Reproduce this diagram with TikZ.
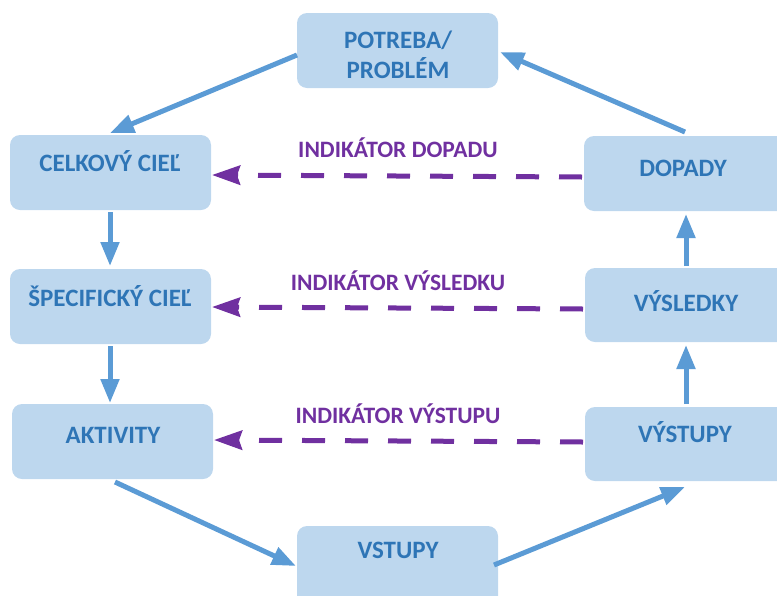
\documentclass[tikz,border=0pt]{standalone}
\usepackage{fontspec}
\setmainfont{Carlito}
\usetikzlibrary{arrows.meta}
\definecolor{boxfill}{HTML}{BDD7EE}
\definecolor{boxtext}{HTML}{2E75B6}
\definecolor{flow}{HTML}{5B9BD5}
\definecolor{ind}{HTML}{7030A0}
\begin{document}
\begin{tikzpicture}[x=1pt,y=-1pt,
  box/.style={fill=boxfill,rounded corners=10pt,draw=none},
  lbl/.style={text=boxtext,font=\bfseries\fontsize{25}{30}\selectfont,align=center,inner sep=0pt},
  indlbl/.style={text=ind,font=\bfseries\fontsize{23.5}{28}\selectfont,inner sep=0pt},
  flowarrow/.style={draw=flow,line width=5pt,-{Triangle[length=24pt,width=18pt]}},
  indarrow/.style={draw=ind,line width=5pt,dash pattern=on 23pt off 20pt,-{Stealth[length=28pt,width=19pt,inset=3pt]}}]
\useasboundingbox (0,0) rectangle (777,595);
% boxes
\path[box] (297,13) rectangle (498,88);
\node[lbl] (potreba) at (398,55) {POTREBA/\\PROBLÉM};
\path[box] (10,135) rectangle (211,210);
\node[lbl] (celk) at (110,161) {CELKOVÝ CIEĽ};
\path[box] (10,269) rectangle (211,344);
\node[lbl] (spec) at (110,296) {ŠPECIFICKÝ CIEĽ};
\path[box] (12,404) rectangle (213,479);
\node[lbl] (akt) at (113,435) {AKTIVITY};
\path[box] (297,526) rectangle (498,610);
\node[lbl] (vst) at (398,550) {VSTUPY};
\path[box] (585,407) rectangle (790,481);
\node[lbl] (vyst) at (685,432) {VÝSTUPY};
\path[box] (585,268) rectangle (790,342);
\node[lbl] (vysl) at (686,301) {VÝSLEDKY};
\path[box] (584,136) rectangle (790,211);
\node[lbl] (dop) at (683,168) {DOPADY};
% anchor coordinates
\coordinate (pL) at (297,55);
\coordinate (pR) at (500,52);
\coordinate (cT) at (110,133);
\coordinate (cB) at (110,212);
\coordinate (cR) at (212,175);
\coordinate (sT) at (110,266);
\coordinate (sB) at (110,346);
\coordinate (sR) at (212,307);
\coordinate (aT) at (110,403);
\coordinate (aB) at (115,482);
\coordinate (aR) at (214,440);
\coordinate (vL) at (296,566);
\coordinate (vR) at (494,565);
\coordinate (xB) at (685,487);
\coordinate (xT) at (686,404);
\coordinate (xL) at (583,442);
\coordinate (yB) at (686,345);
\coordinate (yT) at (686,266);
\coordinate (yL) at (583,309);
\coordinate (dB) at (686,214);
\coordinate (dT) at (685,132);
\coordinate (dL) at (582,177);
% flow arrows
\draw[flowarrow] (pL) -- (cT);
\draw[flowarrow] (cB) -- (sT);
\draw[flowarrow] (sB) -- (aT);
\draw[flowarrow] (aB) -- (vL);
\draw[flowarrow] (vR) -- (xB);
\draw[flowarrow] (xT) -- (yB);
\draw[flowarrow] (yT) -- (dB);
\draw[flowarrow] (dT) -- (pR);
% indicator arrows
\draw[indarrow] (dL) -- (cR);
\draw[indarrow] (yL) -- (sR);
\draw[indarrow] (xL) -- (aR);
\node[indlbl] (i1) at (398,148) {INDIKÁTOR DOPADU};
\node[indlbl] (i2) at (398,281) {INDIKÁTOR VÝSLEDKU};
\node[indlbl] (i3) at (398,414) {INDIKÁTOR VÝSTUPU};
\end{tikzpicture}
\end{document}
